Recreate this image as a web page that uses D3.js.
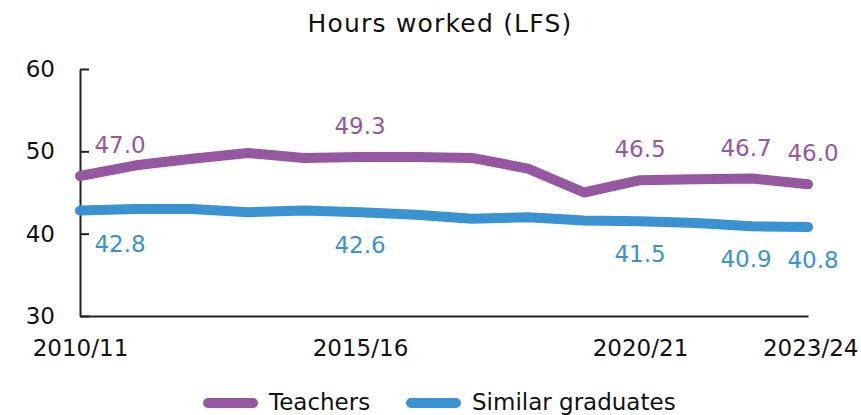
<!DOCTYPE html>
<html>
<head>
<meta charset="utf-8">
<script src="https://cdn.jsdelivr.net/npm/d3@7"></script>
<style>
  html, body { margin: 0; padding: 0; background: #fff; overflow: hidden; }
  svg { display: block; }
  text { font-family: "DejaVu Sans", sans-serif; }
</style>
</head>
<body>
<div id="chart"></div>
<script>
// chart data
var years = ["2010/11", "2011/12", "2012/13", "2013/14", "2014/15", "2015/16", "2016/17",
             "2017/18", "2018/19", "2019/20", "2020/21", "2021/22", "2022/23", "2023/24"];
var teachers = [47.0, 48.3, 49.1, 49.8, 49.2, 49.3, 49.3, 49.2, 47.9, 45.0, 46.5, 46.6, 46.7, 46.0];
var graduates = [42.8, 43.0, 43.0, 42.6, 42.8, 42.6, 42.3, 41.8, 42.0, 41.6, 41.5, 41.3, 40.9, 40.8];
var xTickLabels = ["2010/11", "2015/16", "2020/21", "2023/24"];
var yTicks = [30, 40, 50, 60];
var labelledYears = ["2010/11", "2015/16", "2020/21", "2022/23", "2023/24"];
var seriesNames = ["Teachers", "Similar graduates"];
var colours = ["#95579f", "#3a92d0"];

var width = 861, height = 415;
var margin = {top: 69, right: 53, bottom: 99, left: 80};
var innerWidth = width - margin.left - margin.right;
var innerHeight = height - margin.top - margin.bottom;
var fontSize = "23px";

var svg = d3.select("#chart")
      .append("svg")
      .attr("width", width)
      .attr("height", height);

svg.append("text")
  .attr("x", 440)
  .attr("y", 32)
  .attr("text-anchor", "middle")
  .style("font-size", "25px")
  .style("letter-spacing", "1.2px")
  .attr("fill", "#111")
  .text("Hours worked (LFS)");

var g = svg.append("g")
      .attr("transform", "translate(" + margin.left + "," + margin.top + ")");

var xScale = d3.scalePoint()
      .domain(years)
      .range([0, innerWidth]);

var yScale = d3.scaleLinear()
      .domain([30, 60])
      .range([innerHeight, 0]);

// y axis, ticks pointing inwards
var yAxis = g.append("g")
      .attr("class", "axis axis--y")
      .call(d3.axisRight(yScale).tickValues(yTicks).tickSize(9).tickSizeOuter(0));
yAxis.select(".domain").attr("stroke", "#222").attr("stroke-width", 2);
yAxis.selectAll(".tick line").attr("stroke", "#222").attr("stroke-width", 2);
yAxis.selectAll(".tick text")
  .attr("x", -25)
  .attr("text-anchor", "end")
  .style("font-size", fontSize)
  .attr("fill", "#111");

// x axis
var xAxis = g.append("g")
      .attr("class", "axis axis--x")
      .attr("transform", "translate(0," + innerHeight + ")")
      .call(d3.axisBottom(xScale).tickValues(xTickLabels).tickSize(0).tickPadding(0));
xAxis.select(".domain").attr("stroke", "#222").attr("stroke-width", 2);
xAxis.selectAll(".tick text")
  .attr("y", 40)
  .attr("dy", null)
  .style("font-size", fontSize)
  .attr("fill", "#111");
xAxis.selectAll(".tick").filter(function(d) { return d === "2023/24"; })
  .select("text").attr("text-anchor", "end").attr("dx", 50);

var line = d3.line()
      .x(function(d, i) { return xScale(years[i]); })
      .y(function(d) { return yScale(d); });

var allSeries = [teachers, graduates];

g.selectAll(".series")
  .data(allSeries)
  .enter()
  .append("path")
  .attr("class", "series")
  .attr("fill", "none")
  .attr("stroke", function(d, i) { return colours[i]; })
  .attr("stroke-width", 10)
  .attr("stroke-linecap", "round")
  .attr("stroke-linejoin", "round")
  .attr("d", line);

// data labels
var nudge = {"2010/11": 40, "2015/16": 0, "2020/21": 0, "2022/23": -6, "2023/24": 5};
allSeries.forEach(function(values, s) {
  g.selectAll(".lbl" + s)
    .data(labelledYears)
    .enter()
    .append("text")
    .attr("class", "lbl" + s)
    .attr("x", function(d) { return xScale(d) + nudge[d]; })
    .attr("y", function(d) {
      var v = values[years.indexOf(d)];
      return s === 0 ? yScale(v) - 23 : yScale(v) + 41;
    })
    .attr("text-anchor", "middle")
    .style("font-size", fontSize)
    .attr("fill", colours[s])
    .text(function(d) { return values[years.indexOf(d)].toFixed(1); });
});

// legend
var legendX = [203, 406];
var legend = svg.selectAll(".legend")
      .data(seriesNames)
      .enter()
      .append("g")
      .attr("class", "legend")
      .attr("transform", function(d, i) { return "translate(" + legendX[i] + ",403)"; });

legend.append("line")
  .attr("x1", 5).attr("x2", 50)
  .attr("stroke", function(d, i) { return colours[i]; })
  .attr("stroke-width", 10)
  .attr("stroke-linecap", "round");

legend.append("text")
  .attr("x", 66)
  .attr("y", 7)
  .style("font-size", fontSize)
  .attr("fill", "#111")
  .text(function(d) { return d; });
</script>
</body>
</html>
